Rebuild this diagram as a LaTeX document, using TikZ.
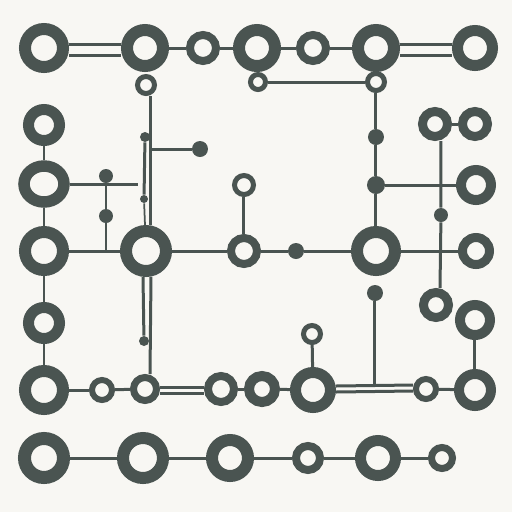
\documentclass[tikz,border=0pt]{standalone}
\usetikzlibrary{shapes.geometric}
\definecolor{ink}{HTML}{4A5451}
\definecolor{paper}{HTML}{F8F7F3}
\tikzset{
  ring/.style 2 args={circle, draw=ink, fill=paper, line width=#2*0.02cm, minimum size=(2*#1-#2)*0.02cm, inner sep=0pt},
  oval/.style={ellipse, draw=ink, fill=paper, line width=0.23cm, minimum width=0.8cm, minimum height=0.72cm, inner sep=0pt},
  blob/.style={circle, fill=ink, minimum size=2*#1*0.02cm, inner sep=0pt},
  wire/.style={draw=ink, line width=0.06cm},
  thin wire/.style={draw=ink, line width=0.035cm}
}
\begin{document}
\begin{tikzpicture}[x=0.02cm, y=-0.02cm]
  \fill[paper] (0,0) rectangle (512,512);

  % Fila superior
  \node[ring={25}{12}] (a1) at (44,48) {};
  \node[ring={24}{12}] (a2) at (145,48) {};
  \node[ring={17}{8}] (a3) at (203,48) {};
  \node[ring={24}{12}] (a4) at (257,48) {};
  \node[ring={17}{8}] (a5) at (313,48) {};
  \node[ring={24}{12}] (a6) at (376,48) {};
  \node[ring={23}{11}] (a7) at (475,48) {};
  \node[ring={11}{5}] (b1) at (146,85) {};
  \node[ring={10}{5}] (b2) at (258,82) {};
  \node[ring={11}{5}] (b3) at (376,82) {};

  % Columna izquierda
  \node[ring={21}{11}] (l1) at (44,125) {};
  \node[oval] (l2) at (44,184) {};
  \node[ring={25}{12}] (l3) at (44,251) {};
  \node[ring={21}{11}] (l4) at (44,323) {};
  \node[ring={25}{12}] (l5) at (44,390) {};
  \node[blob=7] (d1) at (106,176) {};
  \node[blob=7] (d2) at (106,216) {};
  \node[blob=5] (p1) at (145,137) {};
  \node[blob=4] (p2) at (144,199) {};
  \node[blob=5] (p3) at (144,341) {};
  \node[blob=8] (f) at (200,149) {};
  \coordinate (fj) at (151,149);
  \coordinate (lj) at (138,184);

  % Centro
  \node[ring={26}{12}] (c) at (146,251) {};
  \node[ring={17}{8}] (m) at (244,251) {};
  \node[ring={12}{5}] (m2) at (244,185) {};
  \node[blob=8] (e) at (296,251) {};
  \node[ring={25}{12}] (r) at (376,251) {};
  \node[blob=8] (g1) at (376,137) {};
  \node[blob=9] (g2) at (376,185) {};
  \node[blob=8] (k) at (375,293) {};
  \coordinate (kj) at (375,386);

  % Columna derecha
  \node[ring={17}{9}] (q1) at (435,124) {};
  \node[ring={17}{9}] (q2) at (475,124) {};
  \node[ring={20}{10}] (q3) at (476,185) {};
  \node[blob=7] (h) at (441,215) {};
  \node[ring={18}{9}] (q4) at (476,251) {};
  \node[ring={17}{9}] (q5) at (436,305) {};
  \node[ring={20}{10}] (q6) at (475,320) {};

  % Fila inferior
  \node[ring={13}{6}] (s1) at (102,390) {};
  \node[ring={15}{7}] (s2) at (145,389) {};
  \node[ring={17}{8}] (s3) at (221,389) {};
  \node[ring={18}{10}] (s4) at (262,389) {};
  \node[ring={23}{11}] (s5) at (313,390) {};
  \node[ring={11}{5}] (u) at (312,334) {};
  \node[ring={13}{6}] (s6) at (426,389) {};
  \node[ring={21}{10}] (s7) at (475,390) {};

  % Ultima fila
  \node[ring={26}{13}] (t1) at (44,458) {};
  \node[ring={26}{12}] (t2) at (143,458) {};
  \node[ring={24}{12}] (t3) at (230,458) {};
  \node[ring={16}{8}] (t4) at (308,458) {};
  \node[ring={23}{11}] (t5) at (378,458) {};
  \node[ring={14}{7}] (t6) at (442,458) {};

  % Conexiones superiores
  \draw[wire] ([yshift=0.07cm]a1.east) -- ([yshift=0.07cm]a2.west);
  \draw[wire] ([yshift=-0.14cm]a1.east) -- ([yshift=-0.14cm]a2.west);
  \draw[wire] (a2) -- (a3);
  \draw[wire] (a3) -- (a4);
  \draw[wire] (a4) -- (a5);
  \draw[wire] (a5) -- (a6);
  \draw[wire] ([yshift=0.07cm]a6.east) -- ([yshift=0.07cm]a7.west);
  \draw[wire] ([yshift=-0.14cm]a6.east) -- ([yshift=-0.14cm]a7.west);
  \draw[wire] (b2) -- (b3);

  % Conexiones izquierda
  \draw[wire] (l1) -- (l2);
  \draw[wire] (l2) -- (l3);
  \draw[wire] (l3) -- (l4);
  \draw[wire] (l4) -- (l5);
  \draw[wire] (l2) -- (lj);
  \draw[wire] (d1) -- (d2) -- (d2 |- c);
  \draw[wire] ([xshift=0.1cm]b1.south) -- ([xshift=0.1cm]c.north);
  \draw[wire] (p1) -- (p2);
  \draw[thin wire] (p2) -- (c);
  \draw[wire] (f) -- (fj);
  \draw[wire] ([xshift=-0.06cm]c.south) -- (p3);
  \draw[wire] ([xshift=0.1cm]c.south) -- ([xshift=0.1cm]s2.north);

  % Conexiones centro
  \draw[wire] (l3) -- (c);
  \draw[wire] (c) -- (m);
  \draw[wire] (m) -- (m2);
  \draw[wire] (m) -- (e);
  \draw[wire] (e) -- (r);
  \draw[wire] (b3) -- (g1) -- (g2) -- (r);
  \draw[wire] (g2) -- (q3);
  \draw[wire] (r) -- (q4);

  % Conexiones derecha
  \draw[wire] (q1) -- (q2);
  \draw[wire] ([xshift=0.12cm]q1.south) -- (h) -- ([xshift=0.08cm]q5.north);
  \draw[wire] (q6) -- (s7);
  \draw[wire] (k) -- (kj);

  % Conexiones inferiores
  \draw[wire] (l5) -- (s1);
  \draw[wire] (s1) -- (s2);
  \draw[wire] ([yshift=0.04cm]s2.east) -- ([yshift=0.04cm]s3.west);
  \draw[wire] ([yshift=-0.08cm]s2.east) -- ([yshift=-0.08cm]s3.west);
  \draw[wire] (s3) -- (s4);
  \draw[wire] (s4) -- (s5);
  \draw[wire] (s5) -- (u);
  \draw[wire] ([yshift=0.08cm]s5.east) -- ([yshift=0.08cm]s6.west);
  \draw[wire] ([yshift=-0.04cm]s5.east) -- ([yshift=-0.04cm]s6.west);
  \draw[wire] (s6) -- (s7);

  \draw[wire] (t1) -- (t2);
  \draw[wire] (t2) -- (t3);
  \draw[wire] (t3) -- (t4);
  \draw[wire] (t4) -- (t5);
  \draw[wire] (t5) -- (t6);
\end{tikzpicture}
\end{document}
